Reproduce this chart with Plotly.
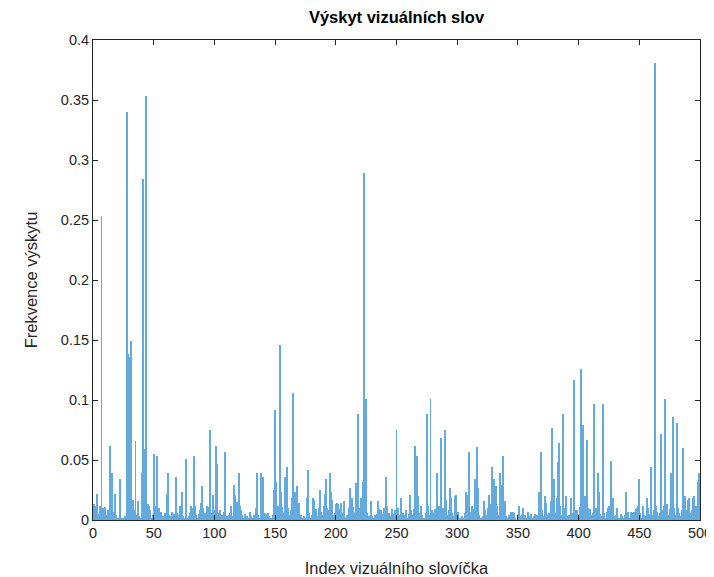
import plotly.graph_objects as go

title_text = "Výskyt vizuálních slov"
x_label = "Index vizuálního slovíčka"
y_label = "Frekvence výskytu"

word_index = list(range(1, 501))
frequency = [
    0.013, 0.012, 0.022, 0.005, 0.003, 0.012, 0.253, 0.010, 0.006, 0.011, 0.004, 0.008, 0.005, 0.062, 0.009, 0.039, 0.007, 0.022, 0.004, 0.002,
    0.001, 0.034, 0.002, 0.000, 0.001, 0.003, 0.002, 0.340, 0.138, 0.136, 0.149, 0.012, 0.017, 0.008, 0.066, 0.004, 0.016, 0.003, 0.002, 0.039,
    0.284, 0.059, 0.013, 0.353, 0.013, 0.012, 0.008, 0.002, 0.004, 0.055, 0.008, 0.012, 0.053, 0.010, 0.004, 0.007, 0.002, 0.003, 0.006, 0.004,
    0.022, 0.039, 0.004, 0.003, 0.007, 0.002, 0.005, 0.036, 0.006, 0.002, 0.004, 0.012, 0.023, 0.003, 0.001, 0.002, 0.051, 0.002, 0.003, 0.006,
    0.012, 0.010, 0.053, 0.012, 0.004, 0.002, 0.005, 0.008, 0.014, 0.028, 0.010, 0.006, 0.003, 0.012, 0.011, 0.075, 0.006, 0.004, 0.021, 0.008,
    0.062, 0.047, 0.006, 0.002, 0.008, 0.004, 0.002, 0.007, 0.057, 0.003, 0.001, 0.004, 0.006, 0.012, 0.003, 0.029, 0.021, 0.009, 0.015, 0.039,
    0.012, 0.008, 0.004, 0.002, 0.005, 0.001, 0.003, 0.002, 0.007, 0.003, 0.002, 0.001, 0.004, 0.010, 0.039, 0.004, 0.002, 0.039, 0.006, 0.036,
    0.004, 0.006, 0.005, 0.006, 0.003, 0.001, 0.002, 0.004, 0.025, 0.092, 0.032, 0.012, 0.008, 0.146, 0.023, 0.011, 0.006, 0.036, 0.014, 0.044,
    0.010, 0.004, 0.008, 0.018, 0.106, 0.023, 0.012, 0.028, 0.006, 0.014, 0.004, 0.002, 0.001, 0.003, 0.002, 0.018, 0.042, 0.006, 0.002, 0.004,
    0.018, 0.017, 0.005, 0.009, 0.003, 0.010, 0.025, 0.007, 0.004, 0.012, 0.022, 0.034, 0.010, 0.008, 0.039, 0.023, 0.017, 0.004, 0.006, 0.013,
    0.014, 0.013, 0.009, 0.014, 0.003, 0.006, 0.016, 0.002, 0.004, 0.003, 0.010, 0.027, 0.018, 0.011, 0.004, 0.006, 0.031, 0.088, 0.010, 0.005,
    0.018, 0.032, 0.289, 0.012, 0.101, 0.006, 0.003, 0.002, 0.016, 0.003, 0.001, 0.004, 0.002, 0.005, 0.016, 0.009, 0.008, 0.003, 0.005, 0.010,
    0.036, 0.012, 0.004, 0.006, 0.003, 0.009, 0.005, 0.002, 0.008, 0.075, 0.010, 0.004, 0.002, 0.018, 0.006, 0.004, 0.003, 0.008, 0.002, 0.005,
    0.021, 0.008, 0.004, 0.009, 0.062, 0.014, 0.053, 0.020, 0.006, 0.012, 0.004, 0.002, 0.001, 0.006, 0.088, 0.012, 0.004, 0.101, 0.008, 0.003,
    0.006, 0.009, 0.039, 0.005, 0.012, 0.004, 0.068, 0.010, 0.006, 0.075, 0.017, 0.004, 0.008, 0.027, 0.018, 0.006, 0.003, 0.020, 0.021, 0.007,
    0.007, 0.002, 0.001, 0.003, 0.002, 0.006, 0.023, 0.004, 0.021, 0.057, 0.007, 0.012, 0.005, 0.009, 0.034, 0.061, 0.027, 0.004, 0.002, 0.001,
    0.003, 0.016, 0.008, 0.004, 0.010, 0.021, 0.013, 0.006, 0.044, 0.034, 0.008, 0.028, 0.012, 0.004, 0.039, 0.029, 0.014, 0.053, 0.016, 0.003,
    0.001, 0.002, 0.004, 0.007, 0.002, 0.007, 0.006, 0.001, 0.000, 0.002, 0.012, 0.003, 0.005, 0.010, 0.002, 0.004, 0.001, 0.007, 0.003, 0.002,
    0.005, 0.001, 0.003, 0.005, 0.002, 0.004, 0.023, 0.006, 0.057, 0.008, 0.003, 0.020, 0.014, 0.004, 0.002, 0.006, 0.016, 0.077, 0.010, 0.034,
    0.006, 0.018, 0.048, 0.064, 0.012, 0.004, 0.088, 0.010, 0.006, 0.020, 0.003, 0.004, 0.002, 0.018, 0.006, 0.117, 0.005, 0.008, 0.008, 0.003,
    0.011, 0.126, 0.032, 0.079, 0.020, 0.006, 0.067, 0.010, 0.009, 0.004, 0.002, 0.006, 0.097, 0.010, 0.004, 0.039, 0.023, 0.005, 0.003, 0.097,
    0.006, 0.002, 0.007, 0.010, 0.012, 0.004, 0.049, 0.018, 0.003, 0.001, 0.004, 0.010, 0.002, 0.001, 0.005, 0.003, 0.002, 0.004, 0.023, 0.003,
    0.007, 0.002, 0.007, 0.004, 0.006, 0.007, 0.009, 0.010, 0.012, 0.034, 0.006, 0.002, 0.012, 0.004, 0.003, 0.018, 0.010, 0.005, 0.002, 0.044,
    0.004, 0.008, 0.381, 0.012, 0.007, 0.003, 0.006, 0.072, 0.008, 0.012, 0.101, 0.006, 0.013, 0.004, 0.009, 0.039, 0.023, 0.086, 0.010, 0.004,
    0.081, 0.010, 0.006, 0.003, 0.008, 0.060, 0.012, 0.020, 0.008, 0.017, 0.018, 0.006, 0.008, 0.018, 0.020, 0.006, 0.012, 0.032, 0.039, 0.010,
]

x_ticks = [0, 50, 100, 150, 200, 250, 300, 350, 400, 450, 500]
y_ticks = [0, 0.05, 0.1, 0.15, 0.2, 0.25, 0.3, 0.35, 0.4]
y_tick_labels = ["0", "0.05", "0.1", "0.15", "0.2", "0.25", "0.3", "0.35", "0.4"]

axis_color = "#262626"
font_family = "Liberation Sans, Arial, sans-serif"

fig = go.Figure()
fig.add_trace(go.Bar(
    x=word_index, y=frequency,
    marker=dict(color="#63aadf", line=dict(width=0)),
    width=0.8,
))

# page body has an 8px default margin, so the figure is sized/offset to compensate
fig.update_layout(
    width=706, height=569,
    margin=dict(l=85, r=14, t=32, b=57, autoexpand=False),
    paper_bgcolor="white", plot_bgcolor="white",
    showlegend=False,
    font=dict(family=font_family, color=axis_color, size=13),
    title=dict(text="<b>" + title_text + "</b>", x=0.5, xanchor="center",
               xref="paper", y=0.984, yref="container", yanchor="middle",
               automargin=False,
               font=dict(size=16.5, color="black", family=font_family)),
    bargap=0,
)
fig.update_xaxes(
    range=[0, 500], tickvals=x_ticks, ticks="inside", ticklen=5, tickwidth=1,
    tickcolor=axis_color, showline=True, linecolor=axis_color, linewidth=1,
    mirror="ticks", showgrid=False, zeroline=False, automargin=False,
    title=dict(text=x_label, font=dict(size=16.5, color=axis_color), standoff=22),
    tickfont=dict(size=14.5, color=axis_color),
)
fig.update_yaxes(
    range=[0, 0.4], tickvals=y_ticks, ticktext=y_tick_labels, ticks="inside",
    ticklen=5, tickwidth=1, tickcolor=axis_color, showline=True,
    linecolor=axis_color, linewidth=1, mirror="ticks", showgrid=False,
    zeroline=False, automargin=False,
    title=dict(text=y_label, font=dict(size=16.5, color=axis_color), standoff=19),
    tickfont=dict(size=14.5, color=axis_color),
)

fig.write_html("out.html")
